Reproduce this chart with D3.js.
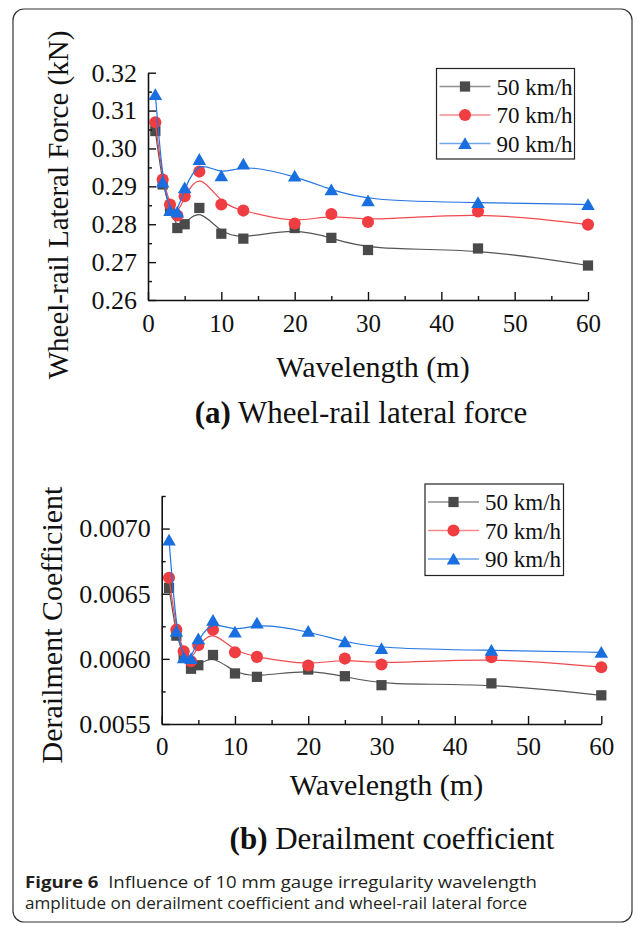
<!DOCTYPE html>
<html>
<head>
<meta charset="utf-8">
<script src="https://cdn.jsdelivr.net/npm/d3@7"></script>
<style>
  body { margin: 0; background: #fff; }
  text { font-family: "Liberation Serif", "Times New Roman", serif; fill: #111; }
</style>
</head>
<body>
<svg id="fig" width="637" height="927"></svg>
<script>
// wavelength (m)
const wavelengths = [1, 2, 3, 4, 5, 7, 10, 13, 20, 25, 30, 45, 60];
const speeds = ["50 km/h", "70 km/h", "90 km/h"];

// (a) wheel-rail lateral force (kN)
const force50 = [0.3046, 0.2905, 0.2838, 0.2790, 0.2800, 0.2843, 0.2775, 0.2762, 0.2790, 0.2764, 0.2732, 0.2736, 0.2691];
const force70 = [0.3069, 0.2918, 0.2852, 0.2823, 0.2874, 0.2939, 0.2852, 0.2836, 0.2802, 0.2827, 0.2806, 0.2834, 0.2799];
const force90 = [0.3142, 0.2911, 0.2836, 0.2832, 0.2896, 0.2971, 0.2928, 0.2959, 0.2927, 0.2891, 0.2862, 0.2857, 0.2852];

// (b) derailment coefficient
const derail50 = [0.006545, 0.006178, 0.006020, 0.005924, 0.005951, 0.006030, 0.005888, 0.005862, 0.005918, 0.005867, 0.005798, 0.005812, 0.005720];
const derail70 = [0.006623, 0.006224, 0.006058, 0.005982, 0.006104, 0.006224, 0.006050, 0.006015, 0.005949, 0.006002, 0.005957, 0.006012, 0.005936];
const derail90 = [0.006911, 0.006211, 0.006008, 0.006002, 0.006153, 0.006295, 0.006206, 0.006275, 0.006211, 0.006130, 0.006079, 0.006066, 0.006050];

const forceTicks = [0.26, 0.27, 0.28, 0.29, 0.30, 0.31, 0.32];
const derailTicks = [0.0055, 0.0060, 0.0065, 0.0070];
const xTicks = [0, 10, 20, 30, 40, 50, 60];

const colors = ["#4a4a4a", "#ef3d42", "#1a6fe0"];
const lineColors = ["#555555", "#f04a4f", "#2475e2"];
const symbols = [d3.symbolSquare, d3.symbolCircle, d3.symbolTriangle];
const symbolSizes = [105, 115, 80];

const svg = d3.select("#fig");

// outer frame
svg.append("rect")
  .attr("x", 13).attr("y", 9)
  .attr("width", 619).attr("height", 913)
  .attr("rx", 11).attr("ry", 11)
  .attr("fill", "none").attr("stroke", "#333").attr("stroke-width", 1.2);

function drawPanel(opt) {
  const g = svg.append("g");
  const x = d3.scaleLinear().domain([0, 60]).range([opt.left, opt.right]);
  const y = d3.scaleLinear().domain(opt.yDomain).range([opt.bottom, opt.top]);

  // lines
  const line = d3.line()
    .x((d) => x(d[0]))
    .y((d) => y(d[1]))
    .curve(d3.curveBasis);

  opt.series.forEach((vals, i) => {
    const pts = wavelengths.map((w, j) => [w, vals[j]]);
    g.append("path")
      .datum(pts)
      .attr("d", line)
      .attr("fill", "none")
      .attr("stroke", lineColors[i])
      .attr("stroke-width", 1.2);
    g.selectAll(".m" + i)
      .data(pts)
      .enter()
      .append("path")
      .attr("class", "m" + i)
      .attr("d", d3.symbol().type(symbols[i]).size(symbolSizes[i]))
      .attr("transform", (d) => `translate(${x(d[0])},${y(d[1]) + (i === 2 ? 1.5 : 0)})`)
      .attr("fill", colors[i]);
  });

  // axes (ticks point inward)
  const yAxis = g.append("g")
    .attr("transform", `translate(${opt.left},0)`)
    .call(d3.axisLeft(y).tickValues(opt.yTicks).tickFormat(opt.yFormat)
      .tickSize(-8).tickSizeOuter(0).tickPadding(11));
  const minorY = d3.range(opt.yTicks.length - 1).map((k) => (opt.yTicks[k] + opt.yTicks[k + 1]) / 2);
  if (opt.yDomain[1] > opt.yTicks[opt.yTicks.length - 1]) minorY.push(opt.yTicks[opt.yTicks.length - 1] + opt.yStep / 2);
  g.append("g")
    .attr("transform", `translate(${opt.left},0)`)
    .call(d3.axisLeft(y).tickValues(minorY).tickFormat("").tickSize(-4).tickSizeOuter(0))
    .select(".domain").remove();

  const xAxis = g.append("g")
    .attr("transform", `translate(0,${opt.bottom})`)
    .call(d3.axisBottom(x).tickValues(xTicks).tickFormat(d3.format("d"))
      .tickSize(-8).tickSizeOuter(0).tickPadding(opt.xPad));
  g.append("g")
    .attr("transform", `translate(0,${opt.bottom})`)
    .call(d3.axisBottom(x).tickValues([5, 15, 25, 35, 45, 55]).tickFormat("").tickSize(-4).tickSizeOuter(0))
    .select(".domain").remove();

  g.selectAll(".domain").attr("stroke", "#111").attr("stroke-width", 1.6);
  g.selectAll(".tick line").attr("stroke", "#111").attr("stroke-width", 1.4);
  yAxis.attr("font-family", null);
  xAxis.attr("font-family", null);
  yAxis.selectAll("text").attr("font-size", 26)
    .style("font-family", "'Liberation Serif', serif").style("fill", "#111");
  xAxis.selectAll("text").attr("font-size", 25)
    .style("font-family", "'Liberation Serif', serif").style("fill", "#111");

  // axis titles
  g.append("text")
    .attr("transform", `translate(${opt.yLabelX},${opt.yLabelY}) rotate(-90)`)
    .attr("text-anchor", "middle")
    .attr("font-size", opt.yLabelSize)
    .text(opt.yLabel);
  g.append("text")
    .attr("x", (opt.left + opt.right) / 2 + 5)
    .attr("y", opt.xLabelY)
    .attr("text-anchor", "middle")
    .attr("font-size", 30)
    .text("Wavelength (m)");

  // panel caption
  const cap = g.append("text")
    .attr("x", opt.capX)
    .attr("y", opt.capY)
    .attr("text-anchor", "middle")
    .attr("font-size", 31);
  cap.append("tspan").attr("font-weight", "bold").text(opt.capTag);
  cap.append("tspan").text(" " + opt.capText);

  // legend
  const lg = g.append("g");
  lg.append("rect")
    .attr("x", opt.leg[0]).attr("y", opt.leg[1])
    .attr("width", opt.leg[2]).attr("height", opt.leg[3])
    .attr("fill", "#fff").attr("stroke", "#222").attr("stroke-width", 1.2);
  speeds.forEach((s, i) => {
    const cy = opt.leg[1] + 18 + i * 28.5;
    const lx = opt.leg[0] + 3;
    lg.append("line")
      .attr("x1", lx).attr("x2", lx + 51)
      .attr("y1", cy).attr("y2", cy)
      .attr("stroke", lineColors[i]).attr("stroke-opacity", 0.65).attr("stroke-width", 1.4);
    lg.append("path")
      .attr("d", d3.symbol().type(symbols[i]).size(symbolSizes[i]))
      .attr("transform", `translate(${lx + 25.5},${cy + (i === 2 ? 1.5 : 0)})`)
      .attr("fill", colors[i]);
    lg.append("text")
      .attr("x", lx + 57)
      .attr("y", cy + 8)
      .attr("font-size", 23)
      .text(s);
  });
}

drawPanel({
  left: 148, right: 588, top: 72.7, bottom: 300,
  yDomain: [0.26, 0.32], yTicks: forceTicks, yStep: 0.01, yFormat: d3.format(".2f"),
  xPad: 14,
  series: [force50, force70, force90],
  yLabel: "Wheel-rail Lateral Force (kN)", yLabelX: 68, yLabelY: 205, yLabelSize: 29,
  xLabelY: 377,
  capTag: "(a)", capText: "Wheel-rail lateral force", capX: 361, capY: 423,
  leg: [436.5, 68.5, 138, 90.5]
});

drawPanel({
  left: 161.7, right: 601.3, top: 496, bottom: 724,
  yDomain: [0.0055, 0.00725], yTicks: derailTicks, yStep: 0.0005, yFormat: d3.format(".4f"),
  xPad: 13,
  series: [derail50, derail70, derail90],
  yLabel: "Derailment Coefficient", yLabelX: 62, yLabelY: 625, yLabelSize: 30,
  xLabelY: 795,
  capTag: "(b)", capText: "Derailment coefficient", capX: 392, capY: 849,
  leg: [425, 484, 138.5, 91.5]
});

// figure caption
const fc1 = svg.append("text")
  .attr("x", 25).attr("y", 888)
  .attr("font-size", 16.5)
  .attr("textLength", 512).attr("lengthAdjust", "spacingAndGlyphs")
  .style("font-family", "'Open Sans', 'Noto Sans', sans-serif")
  .style("fill", "#231f20");
fc1.append("tspan").attr("font-weight", "bold").text("Figure 6");
fc1.append("tspan").text("\u00a0 Influence of 10 mm gauge irregularity wavelength");

svg.append("text")
  .attr("x", 25).attr("y", 909)
  .attr("font-size", 16.5)
  .attr("textLength", 502).attr("lengthAdjust", "spacingAndGlyphs")
  .style("font-family", "'Open Sans', 'Noto Sans', sans-serif")
  .style("fill", "#231f20")
  .text("amplitude on derailment coefficient and wheel-rail lateral force");
</script>
</body>
</html>
